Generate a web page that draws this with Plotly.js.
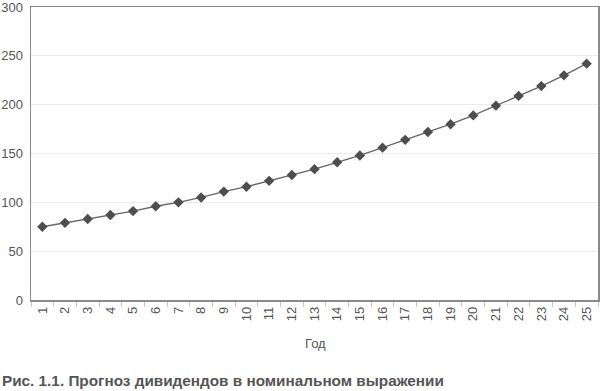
<!DOCTYPE html>
<html><head><meta charset="utf-8">
<script src="https://cdn.plot.ly/plotly-3.0.1.min.js"></script>
<style>body{margin:0;background:#fff}#c{width:600px;height:391px}</style>
</head><body><div id="c"></div>
<script>
const years = ["1","2","3","4","5","6","7","8","9","10","11","12","13","14","15","16","17","18","19","20","21","22","23","24","25"];
const dividends = [75,79,83,87,91,96,100,105,111,116,122,128,134,141,148,156,164,172,180,189,199,209,219,230,242];
const yTicks = [0,50,100,150,200,250,300];
const xTitle = "Год";
const caption = "<b>Рис. 1.1. Прогноз дивидендов в номинальном выражении</b>";

const L=31, R=2, T=7, B=91, W=600, H=391;
const pw=W-L-R, ph=H-T-B;
const px2x = p => (p-L)/pw;
const py2y = p => (H-B-p)/ph;

Plotly.newPlot('c',[{
  x: years, y: dividends, type:'scatter', mode:'lines+markers',
  line:{color:'#666', width:1.3},
  marker:{symbol:'diamond', size:8, color:'#4e4e4e'}
}],{
  width:W, height:H, margin:{l:L,r:R,t:T,b:B},
  paper_bgcolor:'#fff', plot_bgcolor:'#fff', showlegend:false,
  font:{family:'Liberation Sans, Arial, sans-serif', color:'#555', size:13},
  xaxis:{type:'category', range:[-0.5,24.5], tickangle:-90, tickson:'boundaries',
    ticks:'outside', ticklen:5, tickcolor:'#c8c8c8', showgrid:false,
    showline:true, linecolor:'#8a8a8a', linewidth:1.5, mirror:true,
    tickfont:{size:13, color:'#555'}, ticklabeloverflow:'allow'},
  yaxis:{range:[0,300], tickvals:yTicks, ticks:'', showgrid:true, gridcolor:'#ebebeb', gridwidth:1,
    showline:true, linecolor:'#8a8a8a', linewidth:1.5, mirror:true, zeroline:false,
    tickfont:{size:13, color:'#555'}, ticklabelstandoff:4, ticklabeloverflow:'allow'},
  annotations:[
    {text:xTitle, xref:'paper', yref:'paper', x:px2x(315), y:py2y(343), showarrow:false,
     xanchor:'center', yanchor:'middle', font:{size:13,color:'#555'}},
    {text:caption, xref:'paper', yref:'paper', x:px2x(0), y:py2y(381), showarrow:false,
     xanchor:'left', yanchor:'middle', font:{family:'Liberation Sans, Arial', size:15.3, color:'#555'}}
  ]
},{staticPlot:true});
</script></body></html>
